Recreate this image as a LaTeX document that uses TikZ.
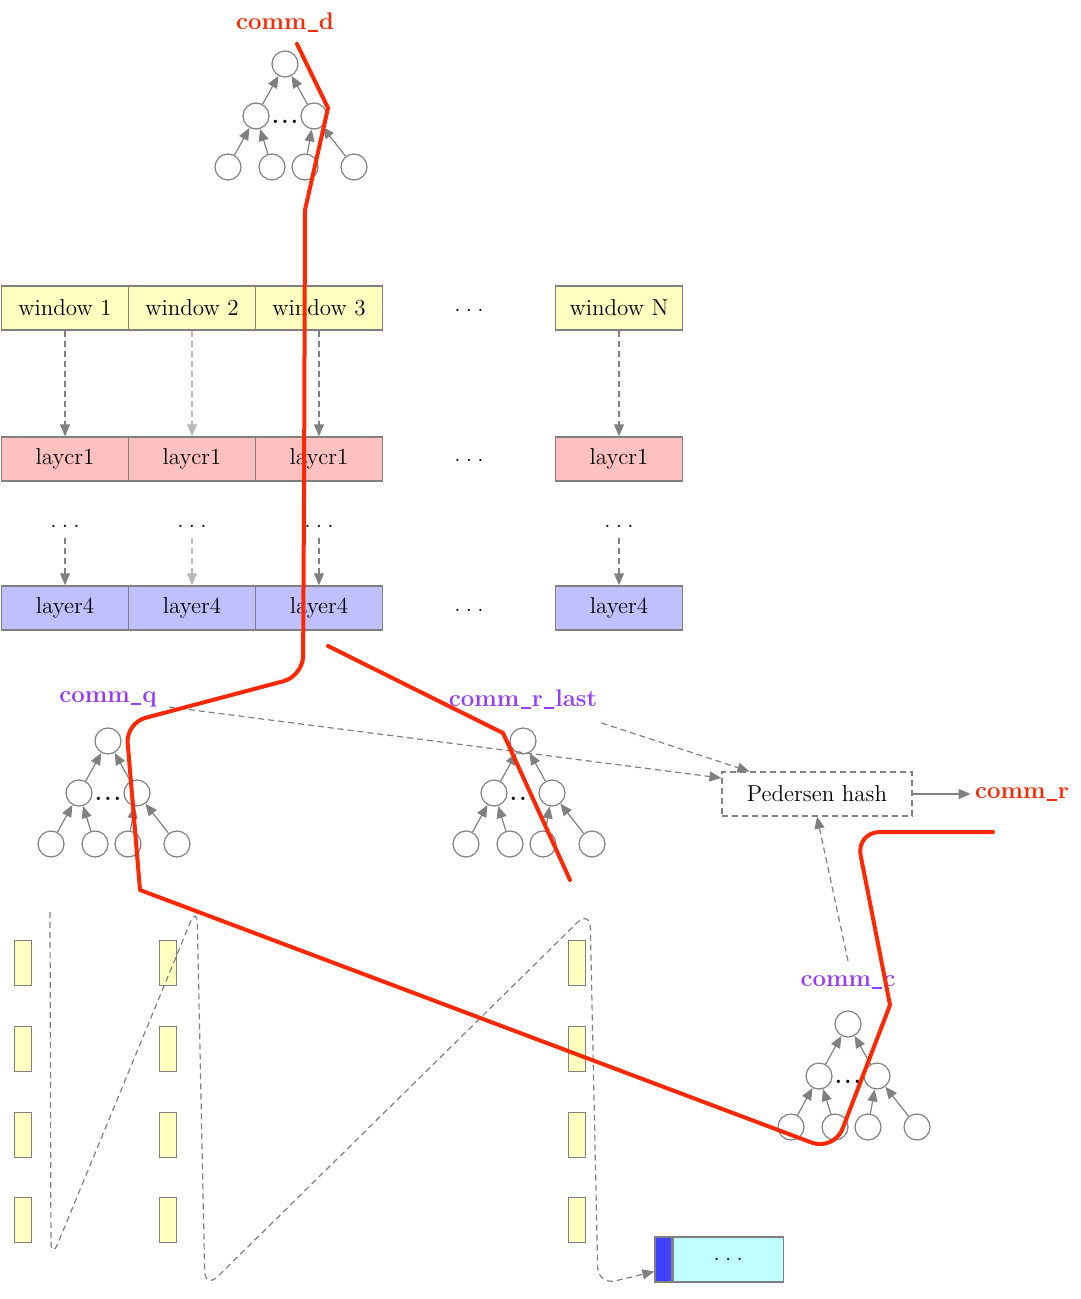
\documentclass[tikz,border=0pt]{standalone}
\usepackage{tikz}
\usetikzlibrary{arrows.meta,positioning}
\definecolor{winyellow}{RGB}{255,255,192}
\definecolor{layerpink}{RGB}{255,192,192}
\definecolor{layerblue}{RGB}{192,192,255}
\definecolor{cellcyan}{RGB}{192,255,255}
\definecolor{cellblue}{RGB}{64,64,255}
\definecolor{pathred}{RGB}{255,40,0}
\definecolor{commpurple}{RGB}{150,60,255}
\definecolor{edgegray}{RGB}{128,128,128}
\newcommand\txtsize{\fontsize{11.5}{13}\selectfont}
\newcommand\lblsize{\fontsize{12}{14}\selectfont}
\newcommand\gapdots{.\hspace{2.6pt}.\hspace{2.6pt}.}
\newcommand\us{\kern0.6pt\rule[-1.2pt]{5pt}{0.8pt}\kern0.6pt}
\tikzset{rowbox/.style={rectangle, draw=edgegray, line width=0.7pt, minimum height=22pt, minimum width=63.5pt, inner sep=0pt, font=\txtsize}}
\tikzset{winbox/.style={rowbox, fill=winyellow}}
\tikzset{l1box/.style={rowbox, fill=layerpink}}
\tikzset{l4box/.style={rowbox, fill=layerblue}}
\tikzset{dotnode/.style={font=\txtsize, inner sep=1pt}}
\tikzset{treenode/.style={circle, draw=edgegray, line width=0.6pt, minimum size=13pt, inner sep=0pt}}
\tikzset{treearrow/.style={edgegray, line width=0.6pt, -{Triangle[length=6pt,width=5pt]}}}
\tikzset{dasharrow/.style={treearrow, dash pattern=on 3pt off 2pt}}
\tikzset{commlabel/.style={font=\lblsize\bfseries, inner sep=2pt}}
\tikzset{hashbox/.style={rectangle, draw=edgegray, dash pattern=on 3pt off 2pt, line width=0.6pt, minimum width=95pt, minimum height=22pt, font=\txtsize}}
\tikzset{bar/.style={rectangle, draw=edgegray, fill=winyellow, line width=0.6pt, minimum width=8.5pt, minimum height=22.5pt, inner sep=0pt}}
\tikzset{cellbox/.style={rectangle, draw=edgegray, line width=0.6pt, minimum height=22.5pt, inner sep=0pt, font=\txtsize}}
\tikzset{highlight/.style={pathred, line width=2pt, line join=round, line cap=round}}
\newcommand\mtree[5]{%
  \node[commlabel, text=#5] (#1lab) at (#2,#3-42) {#4};
  \node[treenode] (#1r) at (#2,#3) {};
  \node[treenode] (#1a) at (#2-29,#3+52) {};
  \node[treenode] (#1b) at (#2+29,#3+52) {};
  \node[dotnode, font=\txtsize\bfseries] (#1dots) at (#2,#3+58) {.\hspace{1.2pt}.\hspace{1.2pt}.};
  \node[treenode] (#1l1) at (#2-57,#3+103) {};
  \node[treenode] (#1l2) at (#2-13,#3+103) {};
  \node[treenode] (#1l3) at (#2+20,#3+103) {};
  \node[treenode] (#1l4) at (#2+69,#3+103) {};
  \draw[treearrow] (#1a) -- (#1r);
  \draw[treearrow] (#1b) -- (#1r);
  \draw[treearrow] (#1l1) -- (#1a);
  \draw[treearrow] (#1l2) -- (#1a);
  \draw[treearrow] (#1l3) -- (#1b);
  \draw[treearrow] (#1l4) -- (#1b);
}
\begin{document}
\begin{tikzpicture}[x=0.5pt,y=-0.5pt]
\useasboundingbox (0,0) rectangle (1080,1299);
\foreach \lbl [count=\i from 0] in {window 1, window 2, window 3} {
  \node[winbox] (win\i) at (65+\i*127,308) {\lbl};
  \node[l1box] (lay\i) at (65+\i*127,459) {laycr1};
  \node[dotnode] (vd\i) at (65+\i*127,526) {\gapdots};
  \node[l4box] (lfo\i) at (65+\i*127,608) {layer4};
}
\node[winbox] (winN) at (619,308) {window N};
\node[l1box] (layN) at (619,459) {laycr1};
\node[dotnode] (vdN) at (619,526) {\gapdots};
\node[l4box] (lfoN) at (619,608) {layer4};
\foreach \y [count=\k] in {310,460,610}
  \node[dotnode] (hd\k) at (469,\y) {\gapdots};
\foreach \i/\c in {0/edgegray,1/edgegray!55,2/edgegray,N/edgegray} {
  \draw[dasharrow,\c] (win\i) -- (lay\i);
  \draw[dasharrow,\c,shorten <=4pt] (vd\i) -- (lfo\i);
}

\mtree{d}{285}{64}{comm\us d}{pathred}
\mtree{q}{108}{741}{comm\us q}{commpurple}
\mtree{rl}{523}{741}{comm\us r\us last}{commpurple}
\mtree{c}{848}{1024}{comm\us c}{commpurple}

\node[hashbox] (ph) at (817,794) {Pedersen hash};
\node[commlabel, text=pathred, right=29pt of ph] (commr) {comm\us r};
\draw[treearrow] (ph) -- (commr);
\draw[dasharrow] ([xshift=4pt,yshift=-4pt]qlab.east) -- ([yshift=8pt]ph.west);
\draw[dasharrow] ([yshift=-5pt]rllab.south east) -- ([xshift=14pt]ph.north west);
\draw[dasharrow] ([yshift=5pt]clab.north) -- (ph.south);

\foreach \x [count=\j] in {23,168,577}
  \foreach \y [count=\k] in {963,1049,1135,1220}
    \node[bar] (b\j\k) at (\x,\y) {};
\node[cellbox, fill=cellblue, minimum width=8.5pt] (cb) at (663.5,1259.5) {};
\node[cellbox, fill=cellcyan, minimum width=55pt, right=0pt of cb] (cc) {\gapdots};
\coordinate (zs) at (50,912);
\draw[dasharrow, rounded corners=9pt] (zs) -- (51,1260) -- (197,906) -- (205,1289) -- (590,910) -- (598,1285) -- ([yshift=-6pt]cb.west);

\draw[highlight] (297,44) -- (328,108) -- (305,210) -- (304,500);
\draw[highlight, rounded corners=10pt] (304,500) -- (303,676) -- (126,723) -- (132.5,800);
\draw[highlight] (132.5,800) -- (140,890) -- (500,1025.4);
\draw[highlight, rounded corners=12pt] (500,1025.4) -- (834,1151) -- (862,1078);
\draw[highlight] (862,1078) -- (890,1005) -- (872,913);
\draw[highlight, rounded corners=12pt] (872,913) -- (856,832) -- (993,832);
\draw[highlight] (328,646) -- (503,733) -- (570,880);
\end{tikzpicture}
\end{document}
